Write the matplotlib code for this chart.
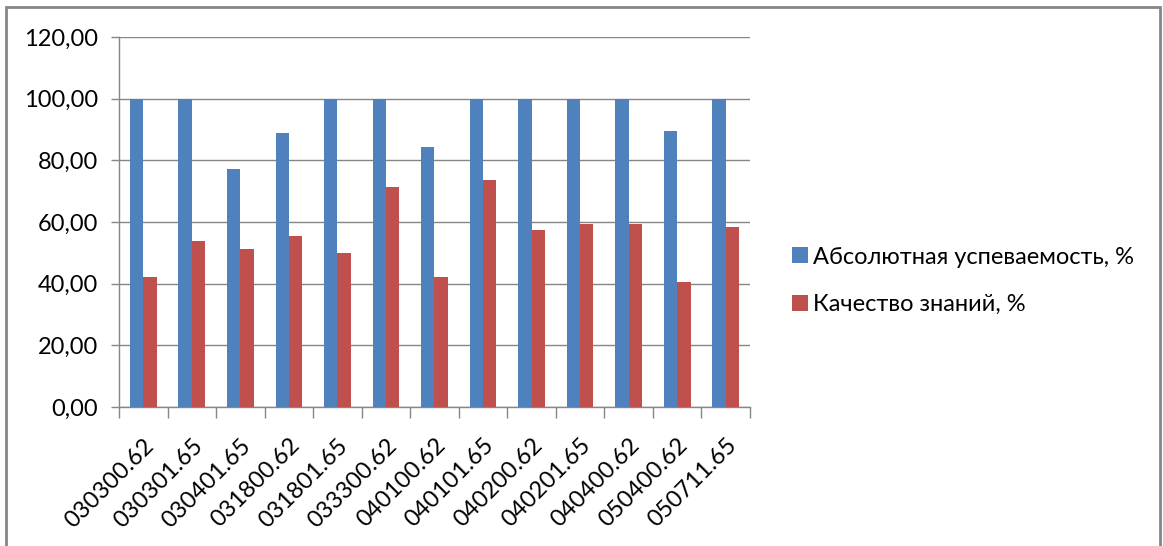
import numpy as np
import matplotlib.pyplot as plt
from matplotlib.patches import Rectangle

categories = ['030300.62', '030301.65', '030401.65', '031800.62', '031801.65',
              '033300.62', '040100.62', '040101.65', '040200.62', '040201.65',
              '040400.62', '050400.62', '050711.65']
absolute = [100, 100, 77.2, 88.9, 100, 100, 84.4, 100, 100, 100, 100, 89.4, 100]
quality = [42.2, 53.9, 51.4, 55.6, 49.8, 71.4, 42.2, 73.5, 57.3, 59.2, 59.2, 40.6, 58.5]
yticks = [0, 20, 40, 60, 80, 100, 120]

plt.rcParams['font.family'] = ['Lato', 'DejaVu Sans']

fig = plt.figure(figsize=(11.63, 5.46), dpi=100)
ax = fig.add_axes([0.1023, 0.2546, 0.5426, 0.6776])

x = np.arange(len(categories))
w = 0.275
ax.bar(x - w / 2, absolute, w, color='#4F81BD', label='Абсолютная успеваемость, %', zorder=3)
ax.bar(x + w / 2, quality, w, color='#C0504D', label='Качество знаний, %', zorder=3)

ax.set_xlim(-0.5, len(categories) - 0.5)
ax.set_ylim(0, 120)
ax.set_yticks(yticks)
ax.set_yticklabels([('%.2f' % v).replace('.', ',') for v in yticks])
ax.yaxis.grid(True, color='#868686', linewidth=1, zorder=0)

ax.set_xticks(x)
ax.set_xticklabels(categories, rotation=45, ha='right', rotation_mode='anchor')
ax.set_xticks(np.arange(-0.5, len(categories)), minor=True)
ax.tick_params(axis='x', which='major', length=0, pad=20, labelsize=17, colors='black')
ax.tick_params(axis='x', which='minor', length=8, width=1, color='#868686')
ax.tick_params(axis='y', length=6, width=1, color='#868686', labelsize=17, pad=9)

for side in ['top', 'right']:
    ax.spines[side].set_visible(False)
for side in ['left', 'bottom']:
    ax.spines[side].set_color('#868686')
    ax.spines[side].set_linewidth(1)

fig.legend(loc='upper left', bbox_to_anchor=(0.671, 0.57), frameon=False,
           fontsize=17, handlelength=0.65, handleheight=0.65, handletextpad=0.25,
           labelspacing=1.12, borderpad=0)

# рамка вокруг диаграммы
fig.patches.append(Rectangle((6 / 1163, -0.05), 1154 / 1163, 0.05 + 539 / 546,
                             transform=fig.transFigure, fill=False,
                             edgecolor='#868686', linewidth=2))

fig.savefig('out.png', dpi=100)
